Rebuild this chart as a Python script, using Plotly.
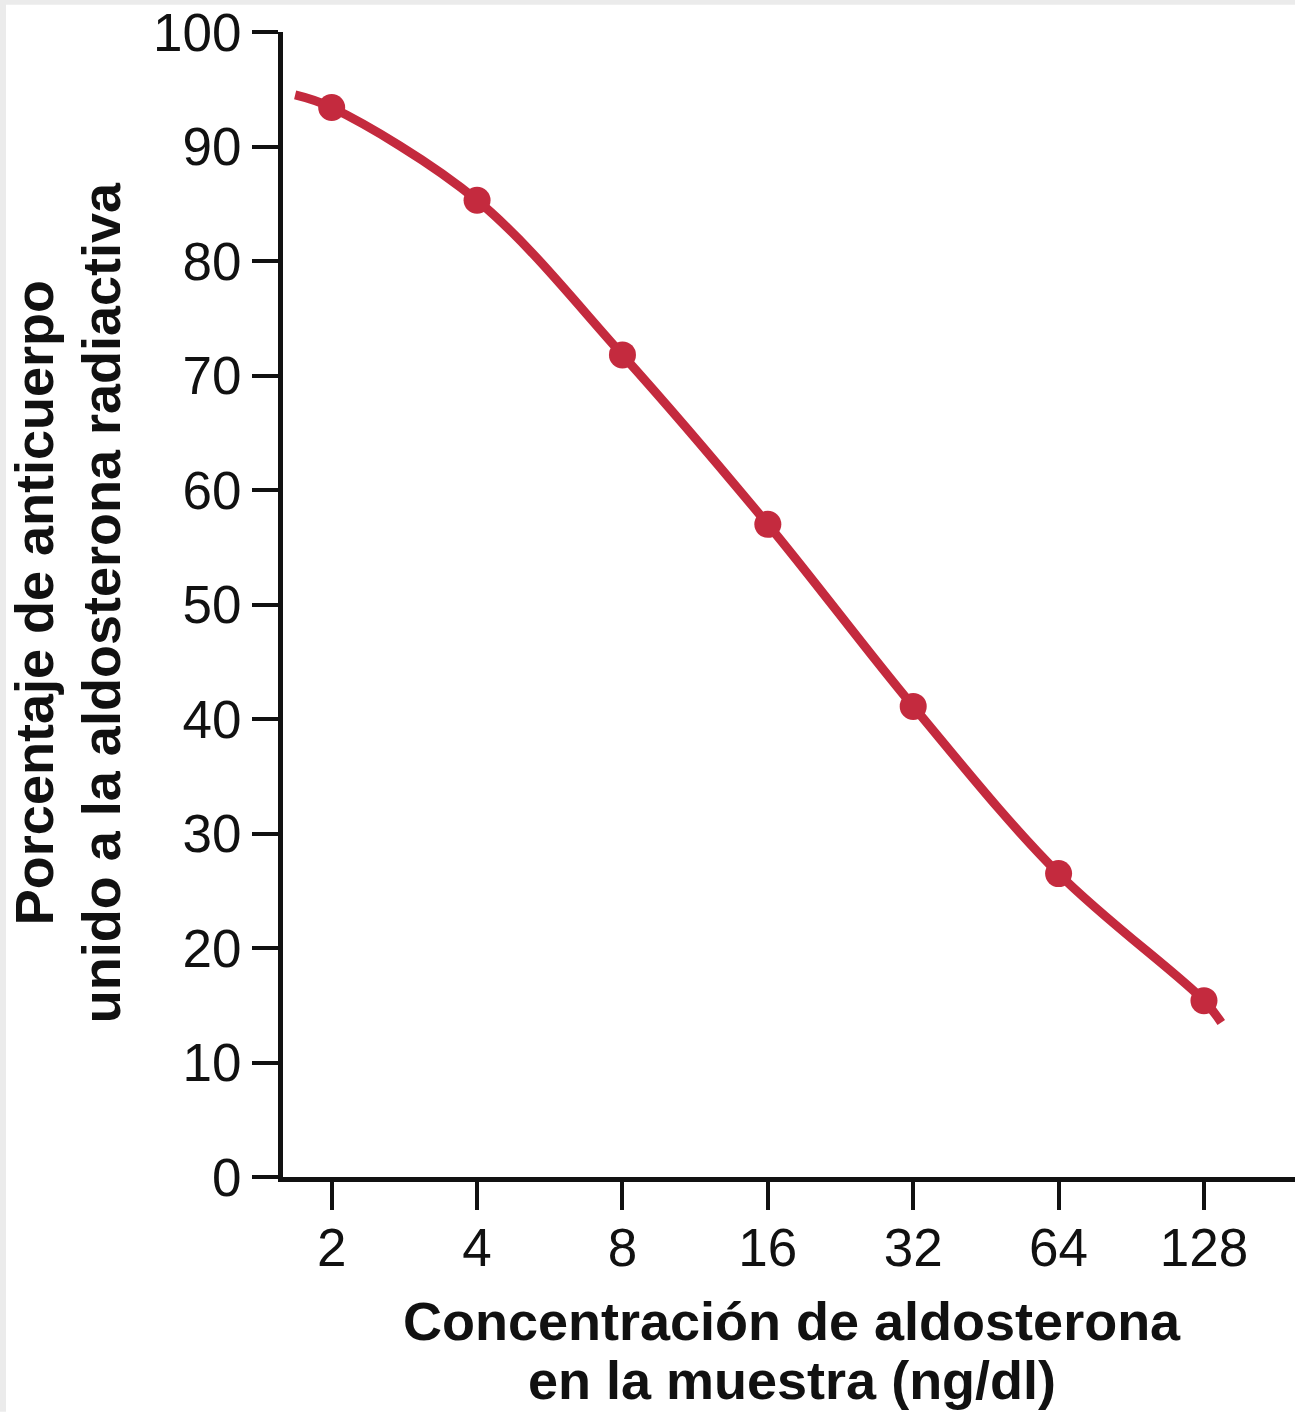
import plotly.graph_objects as go

# %% data
concentracion = [2, 4, 8, 16, 32, 64, 128]
porcentaje_unido = [93.4, 85.3, 71.8, 57.0, 41.1, 26.5, 15.4]

# the drawn curve runs a little past the first and last standard
curva_x = [1.68] + concentracion + [139.0]
curva_y = [94.5] + porcentaje_unido + [13.5]

x_ticks = [2, 4, 8, 16, 32, 64, 128]
y_ticks = [0, 10, 20, 30, 40, 50, 60, 70, 80, 90, 100]

titulo_x = ["Concentración de aldosterona", "en la muestra (ng/dl)"]
titulo_y = ["Porcentaje de anticuerpo", "unido a la aldosterona radiactiva"]

rojo = "#c42a3e"
negro = "#111111"
fuente = "Liberation Sans, Arial, Helvetica, sans-serif"

# %% figure
fig = go.Figure()

fig.add_trace(go.Scatter(
    x=curva_x, y=curva_y,
    mode="lines",
    line=dict(color=rojo, width=9, shape="spline", smoothing=1.0),
    hoverinfo="skip",
    showlegend=False,
))

fig.add_trace(go.Scatter(
    x=concentracion, y=porcentaje_unido,
    mode="markers",
    marker=dict(color=rojo, size=27),
    showlegend=False,
))

fig.update_xaxes(
    type="log",
    range=[0.2002, 2.2957],
    tickvals=x_ticks,
    ticktext=[str(v) for v in x_ticks],
    ticks="outside", ticklen=28, tickwidth=4, tickcolor=negro,
    ticklabelstandoff=-8,
    showline=True, linewidth=5, linecolor=negro,
    showgrid=False, zeroline=False,
    tickfont=dict(family=fuente, size=53, color=negro),
)

fig.update_yaxes(
    range=[0, 100],
    tickvals=y_ticks,
    ticks="outside", ticklen=26, tickwidth=4, tickcolor=negro,
    showline=True, linewidth=5, linecolor=negro,
    showgrid=False, zeroline=False,
    tickfont=dict(family=fuente, size=53, color=negro),
)

# axis titles as separate lines so the line spacing can follow the original
for texto, y in zip(titulo_x, [-0.1255, -0.1775]):
    fig.add_annotation(text="<b>" + texto + "</b>", xref="paper", yref="paper",
                       x=0.503, y=y, xanchor="center", yanchor="middle",
                       showarrow=False,
                       font=dict(family=fuente, size=54, color=negro))

for texto, x in zip(titulo_y, [-0.2461, -0.1799]):
    fig.add_annotation(text="<b>" + texto + "</b>", xref="paper", yref="paper",
                       x=x, y=0.502, xanchor="center", yanchor="middle",
                       textangle=-90, showarrow=False,
                       font=dict(family=fuente, size=54, color=negro))

# thin grey frame on the top and left edges of the picture
fig.add_shape(type="rect", xref="paper", yref="paper",
              x0=-0.2796, x1=-0.2737, y0=-0.205, y1=1.0282,
              fillcolor="#ebebeb", line_width=0, layer="below")
fig.add_shape(type="rect", xref="paper", yref="paper",
              x0=-0.2796, x1=1.0, y0=1.0238, y1=1.0282,
              fillcolor="#ebebeb", line_width=0, layer="below")

fig.update_layout(
    width=1295, height=1412,
    margin=dict(l=283, r=0, t=32, b=235),
    paper_bgcolor="white",
    plot_bgcolor="white",
    showlegend=False,
)

fig.write_html("out.html", config={"displayModeBar": False},
               post_script="document.body.style.margin='0';")
